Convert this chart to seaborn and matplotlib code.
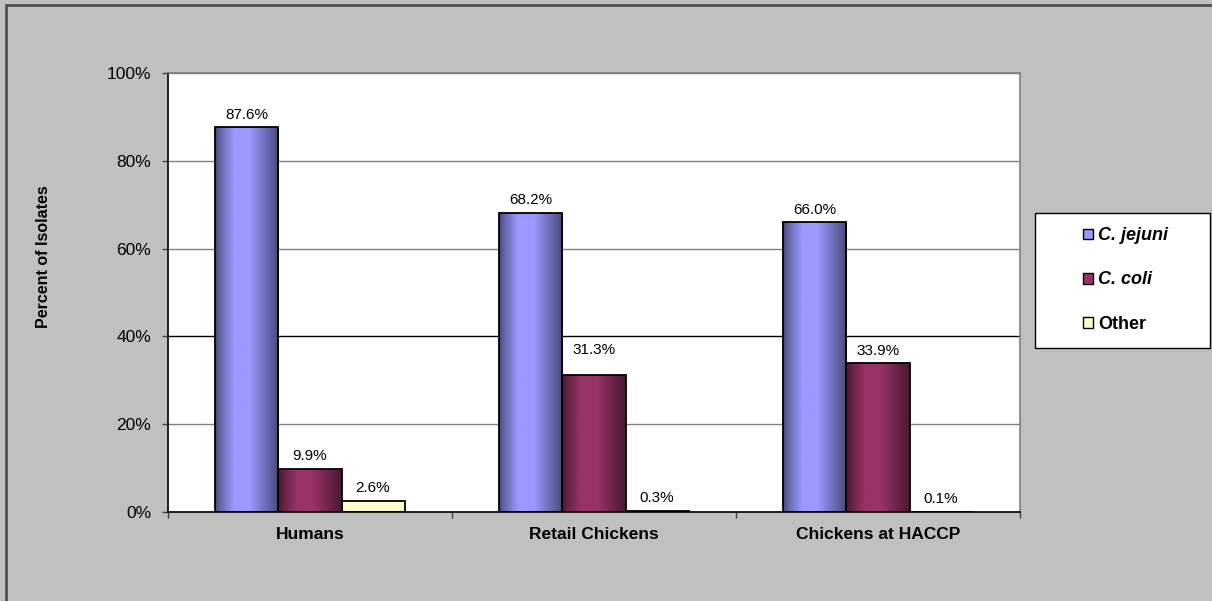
import matplotlib
matplotlib.use("Agg")
import matplotlib.pyplot as plt
from matplotlib.patches import Rectangle, Patch
from matplotlib.ticker import FuncFormatter, FixedLocator
import numpy as np
import pandas as pd
import seaborn as sns

# ---- data ----
sources = ["Humans", "Retail Chickens", "Chickens at HACCP"]
species = ["C. jejuni", "C. coli", "Other"]
jejuni = [87.6, 68.2, 66.0]
coli = [9.9, 31.3, 33.9]
other = [2.6, 0.3, 0.1]
y_ticks = [0, 20, 40, 60, 80, 100]

df = pd.DataFrame({
    "source": sources * 3,
    "species": [s for s in species for _ in sources],
    "pct": jejuni + coli + other,
})

# center colour / edge colour for the cylinder-ish shading
light = {"C. jejuni": (153, 153, 255), "C. coli": (153, 51, 102), "Other": (255, 255, 204)}
dark = {"C. jejuni": (72, 72, 122), "C. coli": (72, 24, 48), "Other": (255, 255, 204)}

sns.set_style("white")
plt.rcParams["font.family"] = ["Liberation Sans", "DejaVu Sans"]
plt.rcParams.update({"text.color": "black", "axes.labelcolor": "black",
                     "xtick.color": "black", "ytick.color": "black"})

W, H = 1212, 601
fig = plt.figure(figsize=(W / 100, H / 100), dpi=100, facecolor="#c0c0c0")
ax = fig.add_axes([168 / W, 1 - 512 / H, 852 / W, 439 / H])
ax.set_facecolor("white")

palette = {k: np.array(v) / 255 for k, v in light.items()}
sns.barplot(data=df, x="source", y="pct", hue="species", order=sources, hue_order=species,
            palette=palette, width=0.666, gap=0, edgecolor="black", linewidth=1.3,
            legend=False, ax=ax, zorder=3)

# -- gradient fill clipped to each bar --
t = np.linspace(0, 1, 200)
shade = np.interp(t, [0, 0.08, 0.3, 0.55, 0.8, 1.0], [0.0, 0.35, 1.0, 1.0, 0.45, 0.0])
for cont, sp in zip(ax.containers, species):
    c0 = np.array(dark[sp]) / 255
    c1 = np.array(light[sp]) / 255
    grad = (c0[None, :] + (c1 - c0)[None, :] * shade[:, None])[None, :, :]
    for bar in cont:
        x, w, h = bar.get_x(), bar.get_width(), bar.get_height()
        im = ax.imshow(grad, extent=[x, x + w, 0, h], aspect="auto", zorder=2.5,
                       interpolation="bilinear")
        im.set_clip_path(bar)
        bar.set_facecolor("none")

# -- data labels --
lift = {(1, 1): 9}
for i, (cont, vals) in enumerate(zip(ax.containers, [jejuni, coli, other])):
    for j, (bar, v) in enumerate(zip(cont, vals)):
        ax.annotate(f"{v:.1f}%", (bar.get_x() + bar.get_width() / 2, v),
                    xytext=(0, 4 + lift.get((i, j), 0)), textcoords="offset points",
                    ha="center", va="bottom", fontsize=11, zorder=5)

ax.set_xlim(-0.5, 2.5)
ax.set_ylim(0, 100)
ax.set_yticks(y_ticks)
ax.yaxis.set_major_formatter(FuncFormatter(lambda v, p: f"{v:.0f}%"))
ax.grid(axis="y", color="#808080", linewidth=1, zorder=0)
ax.set_axisbelow(True)
for gl, v in zip(ax.get_ygridlines(), y_ticks):
    if v == 40:
        gl.set_color("black")

ax.tick_params(axis="y", left=True, length=4, width=1, color="#404040", pad=8, labelsize=12.5)
ax.tick_params(axis="x", which="major", length=0, pad=11, labelsize=12.5)
ax.xaxis.set_minor_locator(FixedLocator([-0.5, 0.5, 1.5, 2.5]))
ax.tick_params(axis="x", which="minor", bottom=True, length=4, width=1, color="#404040")
for lab in ax.get_xticklabels():
    lab.set_fontweight("bold")

ax.set_xlabel("")
ax.set_ylabel("Percent of Isolates", fontsize=11.5, fontweight="bold", labelpad=0)
ax.yaxis.set_label_coords((51 - 168) / 852, (512 - 257) / 439)

for side in ["left", "bottom"]:
    ax.spines[side].set_color("black")
    ax.spines[side].set_linewidth(1.2)
for side in ["top", "right"]:
    ax.spines[side].set_color("#808080")
    ax.spines[side].set_linewidth(1.2)
    ax.spines[side].set_visible(True)

# -- outer chart frame (only top/left edges inside the picture) --
fig.add_artist(Rectangle((6 / W, -0.05), 1.1, 1 - 5 / H + 0.05, transform=fig.transFigure,
                         fill=False, edgecolor="#505050", linewidth=2))

# -- legend box --
fig.add_artist(Rectangle((1035 / W, 1 - 348 / H), 175 / W, 135 / H, transform=fig.transFigure,
                         facecolor="white", edgecolor="black", linewidth=1))
handles = [Patch(facecolor=palette[s], edgecolor="black", linewidth=1) for s in species]
leg = fig.legend(handles, species, loc="center left", bbox_to_anchor=(1074 / W, 1 - 280 / H),
                 frameon=False, fontsize=13, handlelength=0.55, handleheight=0.55,
                 handletextpad=0.3, labelspacing=1.5, borderpad=0)
for txt, sp in zip(leg.get_texts(), species):
    txt.set_fontweight("bold")
    if sp != "Other":
        txt.set_fontstyle("italic")

fig.savefig("out.png", dpi=100, facecolor=fig.get_facecolor())
